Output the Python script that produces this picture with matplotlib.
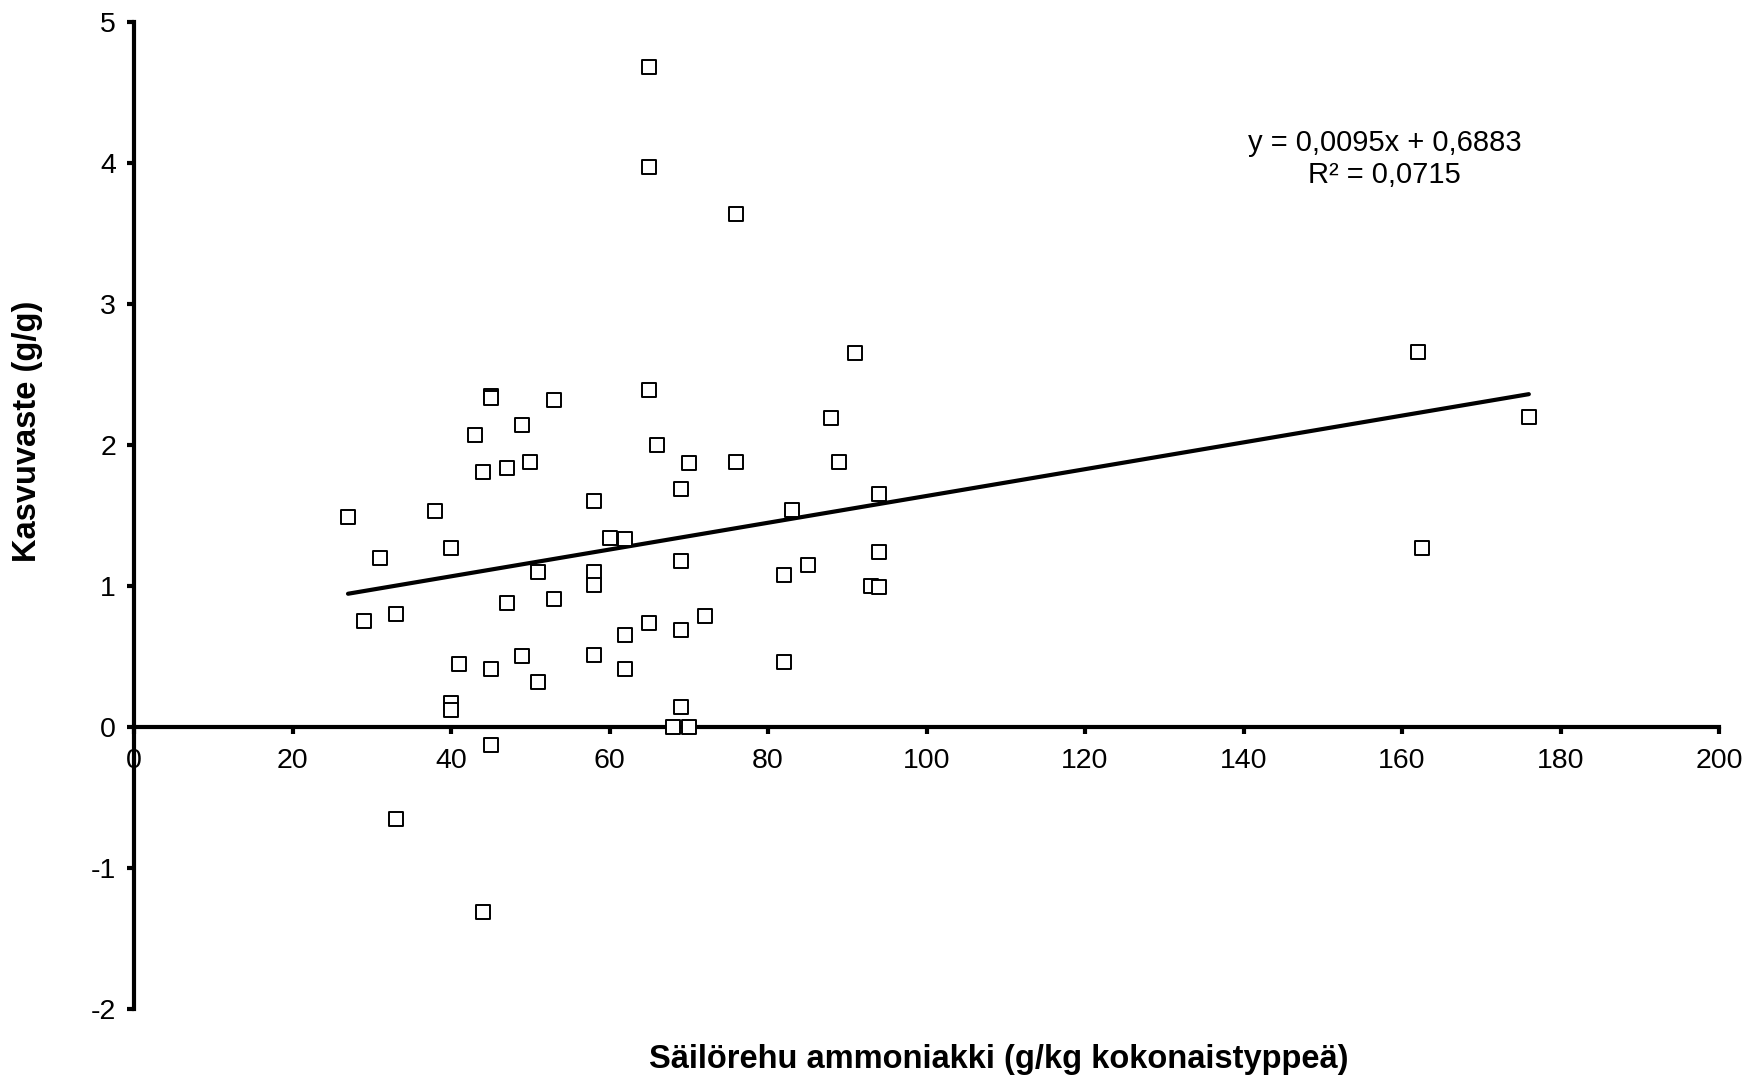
import matplotlib
matplotlib.use("Agg")
import matplotlib.pyplot as plt
import numpy as np

plt.rcParams['font.family'] = ['Liberation Sans', 'DejaVu Sans']

# silage ammonia (g/kg total N) vs growth response (g/g)
ammonia = [27, 29, 31, 33, 33, 38, 40, 40, 40, 41,
           43, 44, 44, 45, 45, 45, 45, 47, 47, 49,
           49, 50, 51, 51, 53, 53, 58, 58, 58, 58,
           60, 62, 62, 62, 65, 65, 65, 65, 66, 68,
           69, 69, 69, 69, 70, 70, 72, 76, 76, 82,
           82, 83, 85, 88, 89, 91, 93, 94, 94, 94,
           162, 162.5, 176]
response = [1.49, 0.75, 1.20, 0.80, -0.65, 1.53, 1.27, 0.17, 0.12, 0.45,
            2.07, 1.81, -1.31, 2.35, 2.33, 0.41, -0.13, 1.84, 0.88, 2.14,
            0.50, 1.88, 1.10, 0.32, 2.32, 0.91, 1.60, 1.10, 1.01, 0.51,
            1.34, 1.33, 0.65, 0.41, 4.68, 3.97, 2.39, 0.74, 2.00, 0.0,
            1.69, 1.18, 0.69, 0.14, 1.87, 0.0, 0.79, 3.64, 1.88, 1.08,
            0.46, 1.54, 1.15, 2.19, 1.88, 2.65, 1.00, 1.65, 1.24, 0.99,
            2.66, 1.27, 2.20]

slope = 0.0095
intercept = 0.6883
r2 = 0.0715

x_ticks = [0, 20, 40, 60, 80, 100, 120, 140, 160, 180, 200]
y_ticks = [-2, -1, 0, 1, 2, 3, 4, 5]

fig = plt.figure(figsize=(17.5, 10.82), dpi=100)
ax = fig.add_axes([0.0766, 0.0675, 0.9057, 0.9122])

ax.scatter(ammonia, response, marker='s', s=105, facecolors='white',
           edgecolors='black', linewidths=1.4, zorder=3)

xl = np.array([min(ammonia), max(ammonia)])
ax.plot(xl, slope * xl + intercept, color='black', lw=3, zorder=2,
        solid_capstyle='round')

ax.text(157.8, 4.03, f"y = {slope:.4f}x + {intercept:.4f}\nR² = {r2:.4f}".replace('.', ','),
        ha='center', va='center', multialignment='center', fontsize=21,
        linespacing=1.2)

ax.set_xlim(0, 200)
ax.set_ylim(-2, 5)
ax.set_xticks(x_ticks)
ax.set_yticks(y_ticks)
ax.set_xticklabels([str(t) for t in x_ticks])
ax.set_yticklabels([str(t) for t in y_ticks])

ax.spines['bottom'].set_position(('data', 0))
ax.spines['left'].set_position(('data', 0))
ax.spines['top'].set_visible(False)
ax.spines['right'].set_visible(False)
for side in ['bottom', 'left']:
    ax.spines[side].set_linewidth(3)
    ax.spines[side].set_zorder(1)

ax.tick_params(axis='both', direction='out', length=5, width=3,
               labelsize=20.5)
ax.tick_params(axis='x', pad=10)
ax.tick_params(axis='y', pad=8)

fig.text(0.571, 0.0205, 'Säilörehu ammoniakki (g/kg kokonaistyppeä)',
         ha='center', va='center', fontsize=23.5, fontweight='bold')
fig.text(0.016, 0.601, 'Kasvuvaste (g/g)', rotation=90,
         ha='center', va='center', fontsize=23.5, fontweight='bold')

fig.savefig('out.png', dpi=100)
